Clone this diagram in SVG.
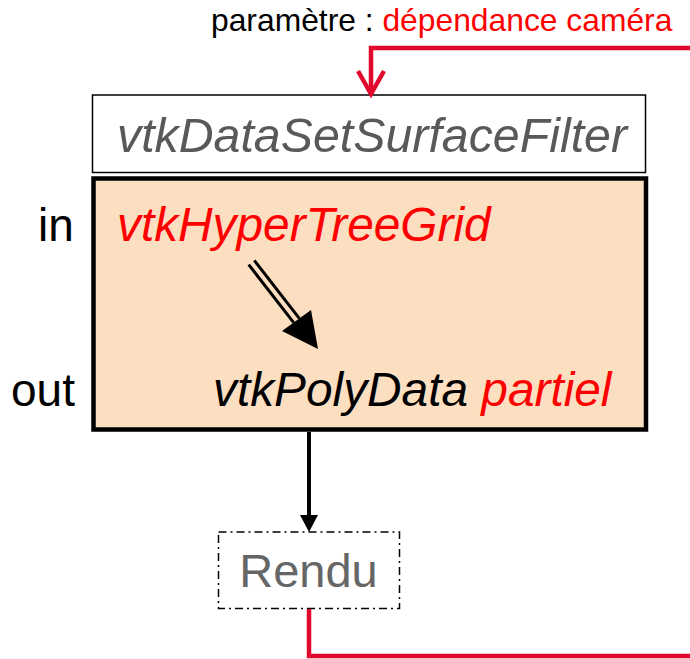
<svg xmlns="http://www.w3.org/2000/svg" width="690" height="659" viewBox="0 0 690 659">
<style>
text{font-family:"Liberation Sans",Arial,sans-serif}
.it{font-style:italic}
.red{fill:#FF0000}
.conn-red{fill:none;stroke:#E0082C;stroke-width:4.5}
</style>
<rect width="690" height="659" fill="#FFFFFF"/>
<text x="211" y="31" font-size="31.8" fill="#000">paramètre : <tspan class="red">dépendance caméra</tspan></text>
<g id="filter-title">
<rect x="92.5" y="95" width="553" height="77.5" fill="#FFFFFF" stroke="#000" stroke-width="1.5"/>
<text class="it" x="117" y="152" font-size="48.3" fill="#595959">vtkDataSetSurfaceFilter</text>
</g>
<g id="filter-body">
<rect x="93.5" y="178.5" width="552.5" height="251" fill="#FCDFC0" stroke="#000" stroke-width="4.5"/>
<text x="38" y="241" font-size="46" fill="#000">in</text>
<text x="11" y="406" font-size="46" fill="#000">out</text>
<text class="it red" x="117" y="241" font-size="47.8">vtkHyperTreeGrid</text>
<text class="it" x="213" y="406" font-size="47.8" fill="#000">vtkPolyData <tspan class="red">partiel</tspan></text>
<g id="inner-arrow">
<line x1="248.7" y1="264.6" x2="293.7" y2="322.6" stroke="#000" stroke-width="3"/>
<line x1="254.3" y1="260.4" x2="299.3" y2="318.4" stroke="#000" stroke-width="3"/>
<polygon points="282,331 311,310 318,349" fill="#000"/>
</g>
</g>
<g id="rendu">
<rect x="218.5" y="532" width="181" height="76.5" fill="none" stroke="#000" stroke-width="1.5" stroke-dasharray="8 4 2 4"/>
<text x="308.5" y="587" font-size="47" fill="#666666" text-anchor="middle">Rendu</text>
</g>
<g id="connectors">
<path class="conn-red" d="M690,48 H371 V93"/>
<polyline class="conn-red" points="358,71 371,94 384,71"/>
<line x1="309" y1="432" x2="309" y2="516" stroke="#000" stroke-width="4"/>
<polygon points="300,515 318,515 309,532" fill="#000"/>
<path class="conn-red" d="M309,609 V656 H690"/>
</g>
</svg>
